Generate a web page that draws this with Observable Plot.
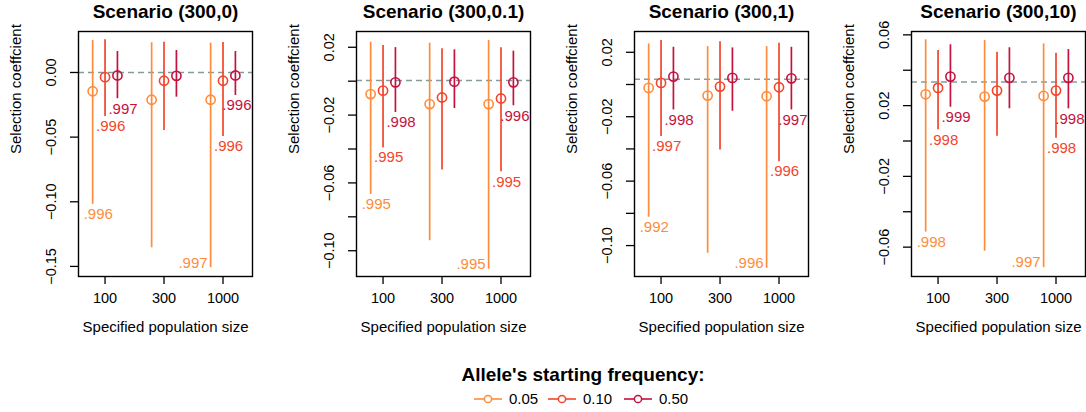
<!DOCTYPE html>
<html><head><meta charset="utf-8">
<script src="https://cdn.jsdelivr.net/npm/d3@7"></script>
<script src="https://cdn.jsdelivr.net/npm/@observablehq/plot@0.6"></script>
<style>
body{margin:0;background:#fff;font-family:"Liberation Sans",Arial,sans-serif;}
#wrap{position:relative;width:1086px;height:412px;overflow:hidden;background:#fff;}
#wrap svg{position:absolute;top:0;overflow:visible;}
</style></head><body><div id="wrap"></div>
<script>
// ---- data ----
const scenarios = ["Scenario (300,0)", "Scenario (300,0.1)", "Scenario (300,1)", "Scenario (300,10)"];
const trueS = [0, 0.000333, 0.00333, 0.0333];
const sizes = ["100", "300", "1000"];
const freqs = ["0.05", "0.10", "0.50"];
const colors = ["#fd8d3c", "#f2452b", "#c4113e"];
// [panel][size][freq]
const estimate = [
  [[-0.0145, -0.0036, -0.0023], [-0.0211, -0.0064, -0.0026], [-0.0211, -0.0064, -0.0023]],
  [[-0.0076, -0.0056, -0.0007], [-0.0135, -0.0096, -0.0003], [-0.0135, -0.0102, -0.0007]],
  [[-0.0021, 0.0010, 0.0049], [-0.0069, -0.0013, 0.0041], [-0.0073, -0.0017, 0.0038]],
  [[0.0264, 0.0300, 0.0364], [0.0251, 0.0285, 0.0357], [0.0255, 0.0285, 0.0357]]
];
const upper = [
  [[0.0247, 0.0253, 0.0162], [0.0230, 0.0234, 0.0170], [0.0227, 0.0232, 0.0162]],
  [[0.0230, 0.0210, 0.0198], [0.0224, 0.0191, 0.0185], [0.0240, 0.0197, 0.0177]],
  [[0.0252, 0.0273, 0.0231], [0.0235, 0.0266, 0.0227], [0.0235, 0.0256, 0.0231]],
  [[0.0572, 0.0511, 0.0544], [0.0568, 0.0502, 0.0527], [0.0549, 0.0496, 0.0517]]
];
const lower = [
  [[-0.1020, -0.0340, -0.0203], [-0.1356, -0.0449, -0.0191], [-0.1510, -0.0495, -0.0178]],
  [[-0.0668, -0.0392, -0.0185], [-0.0941, -0.0524, -0.0161], [-0.1109, -0.0534, -0.0145]],
  [[-0.0824, -0.0323, -0.0158], [-0.1048, -0.0406, -0.0166], [-0.1141, -0.0479, -0.0158]],
  [[-0.0515, 0.0063, 0.0191], [-0.0623, 0.0027, 0.0182], [-0.0716, 0.0016, 0.0182]]
];
const coverage = [
  [[".996", ".996", ".997"], null, [".997", ".996", ".996"]],
  [[".995", ".995", ".998"], null, [".995", ".995", ".996"]],
  [[".992", ".997", ".998"], null, [".996", ".996", ".997"]],
  [[".998", ".998", ".999"], null, [".997", ".998", ".998"]]
];
const yTicks = [
  [0, -0.05, -0.10, -0.15],
  [0.02, 0, -0.02, -0.04, -0.06, -0.08, -0.10],
  [0.02, 0, -0.02, -0.04, -0.06, -0.08, -0.10],
  [0.06, 0.04, 0.02, 0, -0.02, -0.04, -0.06]
];
const yTickLabels = [
  [[0, "0.00"], [-0.05, "\u22120.05"], [-0.10, "\u22120.10"], [-0.15, "\u22120.15"]],
  [[0.02, "0.02"], [-0.02, "\u22120.02"], [-0.06, "\u22120.06"], [-0.10, "\u22120.10"]],
  [[0.02, "0.02"], [-0.02, "\u22120.02"], [-0.06, "\u22120.06"], [-0.10, "\u22120.10"]],
  [[0.06, "0.06"], [0.02, "0.02"], [-0.02, "\u22120.02"], [-0.06, "\u22120.06"]]
];
const legendTitle = "Allele's starting frequency:";

// ---- layout config ----
const yDomains = [[-0.1578, 0.0317], [-0.1152, 0.0293], [-0.1192, 0.0329], [-0.0766, 0.0619]];
const xDomain = [-0.45, 2.5];
const panelLeft = [0, 278, 556, 833];
const offsets = [-0.21, 0, 0.21];
const FRAME_H = 245, MT = 31, MB = 60, ML = 78, MR = 6, FRAME_W = 174;
const font = "'Liberation Sans', Arial, sans-serif";

const wrap = document.getElementById("wrap");

scenarios.forEach((title, p) => {
  const rows = [];
  sizes.forEach((s, si) => freqs.forEach((f, fi) => {
    rows.push({
      pos: si + offsets[fi], freq: f,
      est: estimate[p][si][fi], lo: lower[p][si][fi], hi: upper[p][si][fi],
      lab: coverage[p][si] ? coverage[p][si][fi] : null
    });
  }));
  const [ymin, ymax] = yDomains[p];
  const thresh = ymin + 22 / FRAME_H * (ymax - ymin);
  const pxX = d => (d.pos - xDomain[0]) / (xDomain[1] - xDomain[0]) * FRAME_W;
  const labeled = rows.filter(d => d.lab);
  const labLeft = labeled.filter(d => d.lo < thresh);
  const labRight = labeled.filter(d => d.lo >= thresh && pxX(d) - 9 + 30 > FRAME_W - 2);
  const labBelow = labeled.filter(d => d.lo >= thresh && !(pxX(d) - 9 + 30 > FRAME_W - 2));

  const chart = Plot.plot({
    width: ML + FRAME_W + MR, height: MT + FRAME_H + MB,
    marginLeft: ML, marginRight: MR, marginTop: MT, marginBottom: MB,
    style: {fontFamily: font, fontSize: "14.5px", background: "transparent", color: "#000"},
    x: {type: "linear", domain: xDomain, axis: null},
    y: {domain: yDomains[p], axis: null},
    color: {domain: freqs, range: colors},
    marks: [
      Plot.ruleY([trueS[p]], {stroke: "#869b9b", strokeWidth: 1.5, strokeDasharray: "6,4"}),
      Plot.ruleX(rows, {x: "pos", y1: "lo", y2: "hi", stroke: "freq", strokeWidth: 1.7}),
      Plot.dot(rows, {x: "pos", y: "est", stroke: "freq", r: 4.6, strokeWidth: 1.6, fill: "none"}),
      Plot.text(labBelow, {x: "pos", y: "lo", text: "lab", fill: "freq", textAnchor: "start", lineAnchor: "middle", dx: -9, dy: 10, fontSize: 15}),
      Plot.text(labRight, {frameAnchor: "right", y: "lo", text: "lab", fill: "freq", textAnchor: "end", lineAnchor: "middle", dx: -1, dy: 10, fontSize: 15}),
      Plot.text(labLeft, {x: "pos", y: "lo", text: "lab", fill: "freq", textAnchor: "end", lineAnchor: "middle", dx: -3, dy: -5, fontSize: 15}),
      Plot.frame({stroke: "#000", strokeWidth: 1.4}),
      Plot.axisX({ticks: [0, 1, 2], tickFormat: i => sizes[i], tickSize: 8, tickPadding: 8, label: null, fontSize: 14.5, strokeWidth: 1.3}),
      Plot.axisY({ticks: yTicks[p], tickFormat: () => "", tickSize: 8, label: null, strokeWidth: 1.3}),
      Plot.text(yTickLabels[p], {y: d => d[0], text: d => d[1], frameAnchor: "left", rotate: -90, textAnchor: "middle", lineAnchor: "bottom", dx: -23, fontSize: 14.5}),
      Plot.text([title], {frameAnchor: "top", lineAnchor: "bottom", dy: -14, fontWeight: "bold", fontSize: 19}),
      Plot.text(["Selection coeffcient"], {frameAnchor: "left", rotate: -90, lineAnchor: "middle", dx: -62, fontSize: 15}),
      Plot.text(["Specified population size"], {frameAnchor: "bottom", lineAnchor: "bottom", dy: 55, fontSize: 15})
    ]
  });
  chart.style.left = panelLeft[p] + "px";
  wrap.appendChild(chart);
});

// ---- legend ----
const leg = d3.select(wrap).append("svg")
  .attr("width", 1086).attr("height", 72)
  .style("top", "340px").style("left", "0px")
  .style("font-family", font);
leg.append("text").attr("x", 583).attr("y", 41).attr("text-anchor", "middle")
  .attr("font-weight", "bold").attr("font-size", 19).text(legendTitle);
const itemX = [474, 548, 624];
freqs.forEach((f, i) => {
  const g = leg.append("g").attr("transform", `translate(${itemX[i]},59)`);
  g.append("line").attr("x1", 0).attr("x2", 28).attr("stroke", colors[i]).attr("stroke-width", 1.6);
  g.append("circle").attr("cx", 14).attr("r", 3.6).attr("fill", "white").attr("stroke", colors[i]).attr("stroke-width", 1.5);
  g.append("text").attr("x", 35).attr("y", 5.4).attr("font-size", 15).text(f);
});
</script></body></html>
